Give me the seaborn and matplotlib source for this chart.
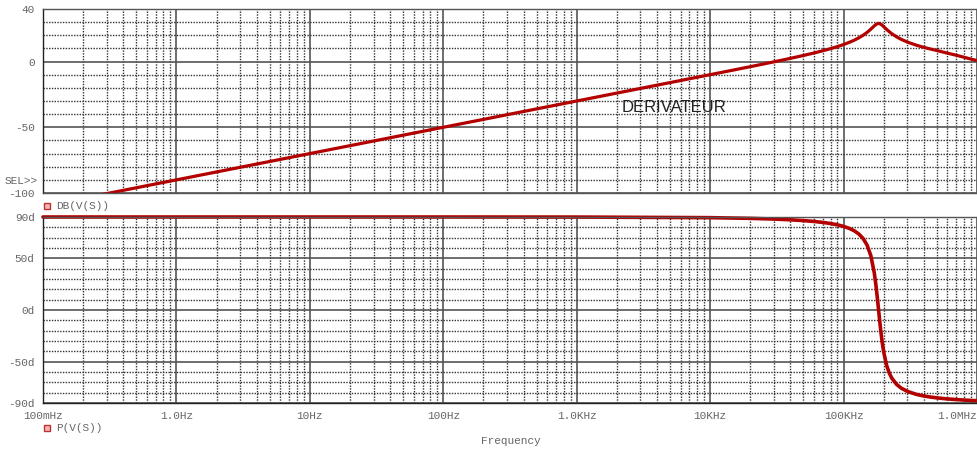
import matplotlib
matplotlib.use("Agg")
import matplotlib.pyplot as plt
import seaborn as sns
import numpy as np
import pandas as pd
from matplotlib.ticker import FixedLocator, NullFormatter, FixedFormatter
from matplotlib.lines import Line2D

# ---- data ----
freq_hz = [0.1, 1, 10, 100, 1000, 10000, 20000, 30000, 40000, 50000, 60000, 70000,
           80000, 90000, 100000, 110000, 120000, 130000, 140000, 150000, 160000,
           170000, 175000, 180000, 183000, 186000, 190000, 195000, 200000, 210000,
           220000, 230000, 250000, 270000, 300000, 350000, 400000, 450000, 500000,
           600000, 700000, 800000, 900000, 1000000]
mag_db = [-110, -90, -70, -50, -30, -9.97, -3.88, -0.23, 2.46, 4.64, 6.52, 8.24,
          9.85, 11.41, 12.97, 14.57, 16.23, 18.02, 19.98, 22.19, 24.65,
          27.19, 28.24, 28.89, 29.0, 28.89, 28.45, 27.59, 26.57, 24.51,
          22.71, 21.18, 18.77, 16.94, 14.9, 12.5, 10.8, 9.5, 8.4,
          6.4, 4.8, 3.3, 1.9, 0.8]
phase_deg = [90, 90, 90, 90, 89.94, 89.36, 88.70, 88.02, 87.30, 86.53, 85.69, 84.74,
             83.67, 82.41, 80.91, 79.06, 76.71, 73.59, 69.25, 62.84, 52.70,
             35.68, 23.53, 9.14, 0.0, -9.01, -20.1, -31.77, -40.9, -53.36,
             -61.0, -66.0, -72.06, -75.56, -78.7, -81.6, -83.22, -84.29, -85.04,
             -86.05, -86.7, -87.16, -87.51, -87.8]

x_major = [0.1, 1, 10, 100, 1e3, 1e4, 1e5, 1e6]
x_labels = ["100mHz", "1.0Hz", "10Hz", "100Hz", "1.0KHz", "10KHz", "100KHz", "1.0MHz"]
mag_ticks = [40, 0, -50, -100]
mag_tick_labels = ["40", "0", "-50", "-100"]
ph_ticks = [90, 50, 0, -50, -90]
ph_tick_labels = ["90d", "50d", "0d", "-50d", "-90d"]

df = pd.DataFrame({"f": freq_hz, "mag": mag_db, "ph": phase_deg})

sns.set_style("white")
plt.rcParams["font.family"] = ["Liberation Mono", "DejaVu Sans Mono"]

W, H = 978, 450
fig = plt.figure(figsize=(W / 100, H / 100), dpi=100)

def fx(px):
    return px / W

def fy(py):
    return 1 - py / H

ax1 = fig.add_axes([fx(43), fy(193), fx(977) - fx(43), (193 - 9) / H])
ax2 = fig.add_axes([fx(43), fy(403), fx(977) - fx(43), (403 - 217) / H])

RED = "#b30000"
GRID = "#333333"
TXT = "#666666"

sns.lineplot(data=df, x="f", y="mag", ax=ax1, color=RED, linewidth=2.3, legend=False)
sns.lineplot(data=df, x="f", y="ph", ax=ax2, color=RED, linewidth=2.6, legend=False)
for ln in ax2.lines:
    ln.set_clip_on(False)

minor_x = [m * 10.0 ** e for e in range(-1, 6) for m in range(2, 10)]

for ax in (ax1, ax2):
    ax.set_xscale("log")
    ax.set_xlim(0.1, 1e6)
    ax.xaxis.set_major_locator(FixedLocator(x_major))
    ax.xaxis.set_minor_locator(FixedLocator(minor_x))
    ax.xaxis.set_minor_formatter(NullFormatter())
    ax.grid(True, which="major", color="#555555", linewidth=1.2, linestyle="-")
    ax.grid(True, which="minor", color=GRID, linewidth=1.0, linestyle=(0, (1, 1)))
    ax.set_xlabel("")
    ax.set_ylabel("")
    for s in ax.spines.values():
        s.set_color("#555555")
        s.set_linewidth(1.0)
    ax.spines["left"].set_color("#222222")
    ax.tick_params(which="minor", length=0)
    ax.tick_params(which="major", direction="out", length=4, width=1, color="#222222",
                   labelsize=8, labelcolor=TXT, pad=2)
    ax.set_axisbelow(True)

# top axes
ax1.set_ylim(-100, 40)
ax1.yaxis.set_major_locator(FixedLocator(mag_ticks))
ax1.yaxis.set_major_formatter(FixedFormatter(mag_tick_labels))
ax1.yaxis.set_minor_locator(FixedLocator([30, 20, 10, -10, -20, -30, -40, -60, -70, -80, -90]))
ax1.tick_params(axis="x", which="major", length=0, labelbottom=False)

# bottom axes
ax2.set_ylim(-90, 90)
ax2.yaxis.set_major_locator(FixedLocator(ph_ticks))
ax2.yaxis.set_major_formatter(FixedFormatter(ph_tick_labels))
ax2.yaxis.set_minor_locator(FixedLocator([80, 70, 60, 40, 30, 20, 10, -10, -20, -30, -40,
                                          -60, -70, -80]))
ax2.xaxis.set_major_formatter(FixedFormatter(x_labels))
ax2.spines["bottom"].set_color("#222222")
ax2.tick_params(axis="x", which="major", pad=2)
xt = ax2.get_xticklabels()
xt[-1].set_horizontalalignment("right")

# annotation
ax1.text(2170, -35, "DERIVATEUR", fontsize=12, color="#222222",
         family=["Liberation Sans", "DejaVu Sans"], ha="left", va="center")

# labels around
fig.text(fx(5), fy(181), "SEL>>", fontsize=8, color=TXT, ha="left", va="center")
fig.text(fx(511), fy(441), "Frequency", fontsize=8, color=TXT, ha="center", va="center")
fig.text(fx(56), fy(206), "DB(V(S))", fontsize=8, color=TXT, ha="left", va="center")
fig.text(fx(56), fy(428), "P(V(S))", fontsize=8, color=TXT, ha="left", va="center")
for py in (206, 428):
    fig.add_artist(Line2D([fx(47)], [fy(py)], marker="s", markersize=4,
                          markerfacecolor="#f2b8b8", markeredgecolor="#c03030",
                          markeredgewidth=1, transform=fig.transFigure))

fig.savefig("out.png", dpi=100)
